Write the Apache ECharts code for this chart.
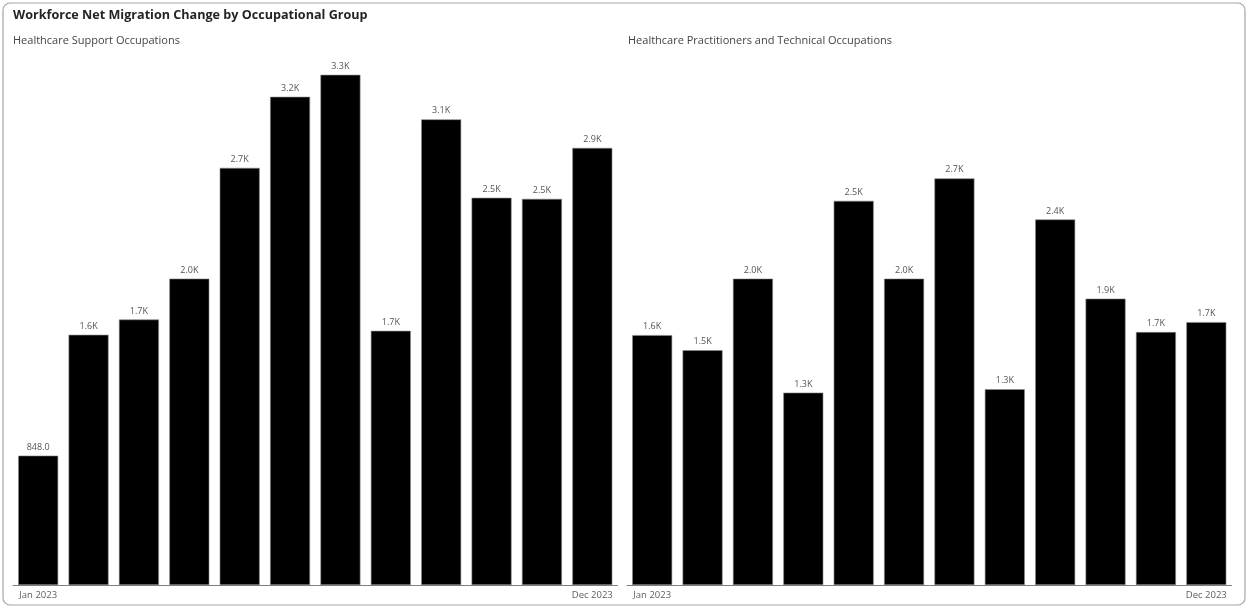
<!DOCTYPE html>
<html>
<head>
<meta charset="utf-8">
<style>
  html, body { margin: 0; padding: 0; background: #ffffff; }
  #chart { width: 1249px; height: 609px; }
</style>
<script src="https://cdn.jsdelivr.net/npm/echarts@6/dist/echarts.min.js"></script>
</head>
<body>
<div id="chart"></div>
<script>
// Monthly net migration change, 2023
const months = ['Jan 2023', 'Feb 2023', 'Mar 2023', 'Apr 2023', 'May 2023', 'Jun 2023',
                'Jul 2023', 'Aug 2023', 'Sep 2023', 'Oct 2023', 'Nov 2023', 'Dec 2023'];
const supportValues = [848, 1640, 1740, 2008, 2734, 3200, 3344, 1666, 3052, 2538, 2531, 2865];
const practitionerValues = [1638, 1539, 2008, 1261, 2518, 2008, 2665, 1283, 2396, 1877, 1658, 1723];
const panelTitles = ['Healthcare Support Occupations', 'Healthcare Practitioners and Technical Occupations'];
const chartTitle = 'Workforce Net Migration Change by Occupational Group';

const FONT = '"Open Sans", "Noto Sans", sans-serif';

function fmtValue(v) {
  return v >= 1000 ? (v / 1000).toFixed(1) + 'K' : v.toFixed(1);
}

const chart = echarts.init(document.getElementById('chart'), null, { renderer: 'canvas' });

function xAxisFor(gridIndex) {
  return {
    type: 'category',
    gridIndex: gridIndex,
    data: months,
    axisLine: { show: true, lineStyle: { color: '#7f7f7f', width: 1 } },
    axisTick: { show: false },
    axisLabel: {
      interval: 0,
      margin: 5,
      color: '#605e5c',
      fontFamily: FONT,
      fontSize: 9.5,
      formatter: function (val, idx) {
        return (idx === 0 || idx === months.length - 1) ? val : '';
      }
    },
    splitLine: { show: false }
  };
}

function yAxisFor(gridIndex) {
  return {
    type: 'value',
    gridIndex: gridIndex,
    min: 0,
    max: 3500,
    show: false,
    splitLine: { show: false }
  };
}

function barSeries(idx, values) {
  return {
    type: 'bar',
    xAxisIndex: idx,
    yAxisIndex: idx,
    data: values,
    barWidth: 40,
    itemStyle: { color: '#000000', borderColor: '#8a8a8a', borderWidth: 0.6 },
    label: {
      show: true,
      position: 'top',
      distance: 4,
      color: '#555555',
      fontFamily: FONT,
      fontSize: 9,
      formatter: function (p) { return fmtValue(p.value); }
    },
    silent: true,
    animation: false
  };
}

chart.setOption({
  backgroundColor: '#ffffff',
  animation: false,
  graphic: [{
    type: 'rect',
    shape: { x: 3, y: 3, width: 1242, height: 602, r: 7 },
    style: { fill: 'none', stroke: '#a6a6a6', lineWidth: 1.2 },
    silent: true,
    z: -1
  }],
  title: [
    {
      text: chartTitle,
      left: 13, top: 9, padding: 0,
      textStyle: { fontFamily: FONT, fontSize: 12.6, fontWeight: 'bold', color: '#252423' }
    },
    {
      text: panelTitles[0],
      left: 13, top: 35, padding: 0,
      textStyle: { fontFamily: FONT, fontSize: 11, fontWeight: 'normal', color: '#444444' }
    },
    {
      text: panelTitles[1],
      left: 628, top: 35, padding: 0,
      textStyle: { fontFamily: FONT, fontSize: 11, fontWeight: 'normal', color: '#444444' }
    }
  ],
  grid: [
    { left: 13, top: 51, width: 604.5, height: 534 },
    { left: 627, top: 51, width: 604.5, height: 534 }
  ],
  xAxis: [xAxisFor(0), xAxisFor(1)],
  yAxis: [yAxisFor(0), yAxisFor(1)],
  series: [barSeries(0, supportValues), barSeries(1, practitionerValues)]
});
</script>
</body>
</html>
